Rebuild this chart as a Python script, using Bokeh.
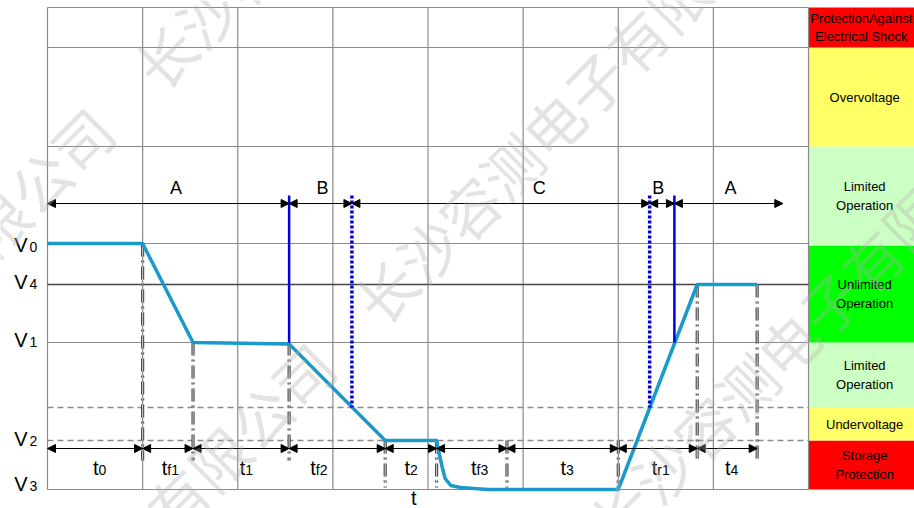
import math
from bokeh.plotting import figure
from bokeh.models import Range1d, Arrow, NormalHead, ColumnDataSource, Label
from bokeh.core.properties import value
from bokeh.embed import file_html
from bokeh.resources import INLINE

# ---------------- data ----------------
# voltage levels (arbitrary units, V3 = 0)
level_names = ["V", "V", "V", "V", "V"]
level_subs = ["0", "4", "1", "2", "3"]
level_values = [24.6, 20.5, 14.7, 4.9, 0.0]
undervoltage_threshold = 8.2
grid_levels = [0.0, 14.7, 24.6, 34.3, 44.2, 48.2]
v4_level = 20.5
dashed_levels = [8.2, 4.9]

# test waveform (time in grid units, voltage in level units)
wave_t = [0.0, 1.0, 1.53, 2.54, 3.55, 4.09, 4.11, 4.15, 4.18, 4.24, 4.34, 4.63, 6.0, 6.83, 7.46]
wave_v = [24.6, 24.6, 14.7, 14.55, 4.9, 4.9, 3.9, 2.2, 1.1, 0.4, 0.2, 0.0, 0.0, 20.5, 20.5]

# operating phases A / B / C
phase_bounds = [0.0, 2.54, 3.2, 6.33, 6.59, 7.73]
phase_labels = ["A", "B", "C", "B", "A"]
phase_label_t = [1.35, 2.89, 5.17, 6.42, 7.18]

# status-change markers (blue)
solid_marker_t = [2.54, 6.59]
solid_marker_bottom = [14.7, 14.7]
dotted_marker_t = [3.2, 6.33]
dotted_marker_bottom = [8.2, 8.2]
marker_top = 29.4

# time intervals
interval_bounds = [0.0, 1.0, 1.53, 2.54, 3.55, 4.09, 4.83, 6.0, 6.83, 7.46]
interval_subs = ["0", "f1", "1", "f2", "2", "f3", "3", "r1", "4"]
interval_label_t = [0.536, 1.26, 2.08, 2.82, 3.81, 4.51, 5.45, 6.41, 7.18]

# dash-dot event lines
event_t = [1.0, 1.53, 2.54, 3.55, 4.09, 4.83, 6.0, 6.83, 7.46]
event_top = [24.6, 14.7, 14.7, 4.9, 4.9, 4.9, 4.9, 20.5, 20.5]
event_bottom = [2.9, 2.9, 2.9, 0.2, 0.2, 0.2, 0.0, 2.9, 2.9]

# voltage ranges (right panel)
band_bottom = [0.0, 4.9, 8.2, 14.7, 24.4, 34.3, 44.2]
band_top = [4.9, 8.2, 14.7, 24.4, 34.3, 44.2, 48.2]
band_labels = ["Storage\nProtection", "Undervoltage", "Limited\nOperation",
               "Unlimited\nOperation", "Limited\nOperation", "Overvoltage",
               "ProtectionAgainst\nElectrical Shock"]

# ---------------- styles ----------------
band_colors = ["#ff0000", "#ffff66", "#ccffc4", "#00ff00", "#ccffc4", "#ffff66", "#ff0000"]
band_label_x = [8.59, 8.59, 8.59, 8.59, 8.59, 8.59, 8.555]
FONT = value("Liberation Sans")
GRID = "#8a8a8a"

p = figure(width=914, height=508, x_range=Range1d(-0.494, 9.114), y_range=Range1d(-1.9, 48.9),
           output_backend="svg", toolbar_location=None, min_border=0,
           x_axis_location=None, y_axis_location=None)
p.grid.visible = False
p.outline_line_color = None
p.background_fill_color = "white"
p.border_fill_color = "white"

t_max = 8.0
# right panel bands
p.quad(left=t_max, right=9.3, bottom=band_bottom, top=band_top, fill_color=band_colors, line_color=None)
p.text(x=band_label_x, y=[(a + b) / 2 for a, b in zip(band_bottom, band_top)], text=band_labels,
       text_font=FONT, text_font_size="13px", text_align="center", text_baseline="middle",
       text_line_height=1.25, text_color="black")

# grid
p.segment(x0=list(range(9)), y0=0, x1=list(range(9)), y1=48.2, line_color=GRID, line_width=1.2)
p.segment(x0=0, y0=grid_levels, x1=t_max, y1=grid_levels, line_color=GRID, line_width=1.2)
p.segment(x0=0, y0=[v4_level], x1=t_max, y1=[v4_level], line_color="#444444", line_width=1.3)
p.segment(x0=0, y0=dashed_levels, x1=t_max, y1=dashed_levels, line_color="#8a8a8a",
          line_width=1.5, line_dash="6 4")

# dash-dot event lines
p.segment(x0=event_t, y0=event_top, x1=event_t, y1=event_bottom, line_color="#4a4a4a",
          line_width=3.2, line_dash="13 4 2 4")
p.segment(x0=event_t, y0=event_top, x1=event_t, y1=event_bottom, line_color="#d0d0d0",
          line_width=1.0, line_dash="13 4 2 4", line_dash_offset=0)

# waveform
p.line(wave_t, wave_v, line_color="#1a9acb", line_width=3.5, line_join="round")

# blue markers
p.segment(x0=solid_marker_t, y0=marker_top, x1=solid_marker_t, y1=solid_marker_bottom,
          line_color="#0000dd", line_width=2.5)
p.segment(x0=dotted_marker_t, y0=marker_top, x1=dotted_marker_t, y1=dotted_marker_bottom,
          line_color="#0000dd", line_width=3.5, line_dash="3 2")

# phase arrows
ph_y = 28.6
src_ph = ColumnDataSource(dict(x0=phase_bounds[:-1], x1=phase_bounds[1:], y=[ph_y] * len(phase_labels)))
p.add_layout(Arrow(start=NormalHead(size=8, fill_color="black", line_color="black"),
                   end=NormalHead(size=8, fill_color="black", line_color="black"),
                   x_start="x0", y_start="y", x_end="x1", y_end="y", source=src_ph,
                   line_color="black", line_width=1.2))
p.text(x=phase_label_t, y=[30.2] * len(phase_labels), text=phase_labels, text_font=FONT,
       text_font_size="18px", text_align="center", text_baseline="alphabetic", text_color="black")

# interval arrows
iv_y = 4.1
src_iv = ColumnDataSource(dict(x0=interval_bounds[:-1], x1=interval_bounds[1:], y=[iv_y] * len(interval_subs)))
p.add_layout(Arrow(start=NormalHead(size=8, fill_color="black", line_color="black"),
                   end=NormalHead(size=8, fill_color="black", line_color="black"),
                   x_start="x0", y_start="y", x_end="x1", y_end="y", source=src_iv,
                   line_color="black", line_width=1.2))
p.text(x=interval_label_t, y=[2.2] * len(interval_subs), text=["t"] * len(interval_subs), text_font=FONT,
       text_font_size="20px", text_align="right", text_baseline="alphabetic", text_color="black")
p.text(x=interval_label_t, y=[2.0] * len(interval_subs), text=interval_subs, text_font=FONT,
       text_font_size="14px", text_align="left", text_baseline="alphabetic", text_color="black")

# voltage level labels
lab_y = [24.5, 20.8, 15.0, 5.1, 0.6]
p.text(x=[-0.21] * 5, y=lab_y, text=level_names, text_font=FONT, text_font_size="20px",
       text_align="right", text_baseline="alphabetic", text_color="black")
p.text(x=[-0.19] * 5, y=[v - 0.2 for v in lab_y], text=level_subs, text_font=FONT, text_font_size="14px",
       text_align="left", text_baseline="alphabetic", text_color="black")

# time axis label
p.text(x=[3.85], y=[-0.85], text=["t"], text_font=FONT, text_font_size="20px",
       text_align="center", text_baseline="alphabetic", text_color="black")

# watermark
wm_text = "长沙容测电子有限公司　" * 3
for wx, wy in [(-3.81, -4.6), (-1.49, -28.1), (0.98, -50.1)]:
    p.add_layout(Label(x=wx, y=wy, text=wm_text, angle=math.pi / 4, text_align="left",
                       text_baseline="middle", text_font="Noto Sans CJK SC", text_font_size="59px",
                       text_color="#b0b0b0", text_alpha=0.35))

open("out.html", "w").write(file_html(p, INLINE))
